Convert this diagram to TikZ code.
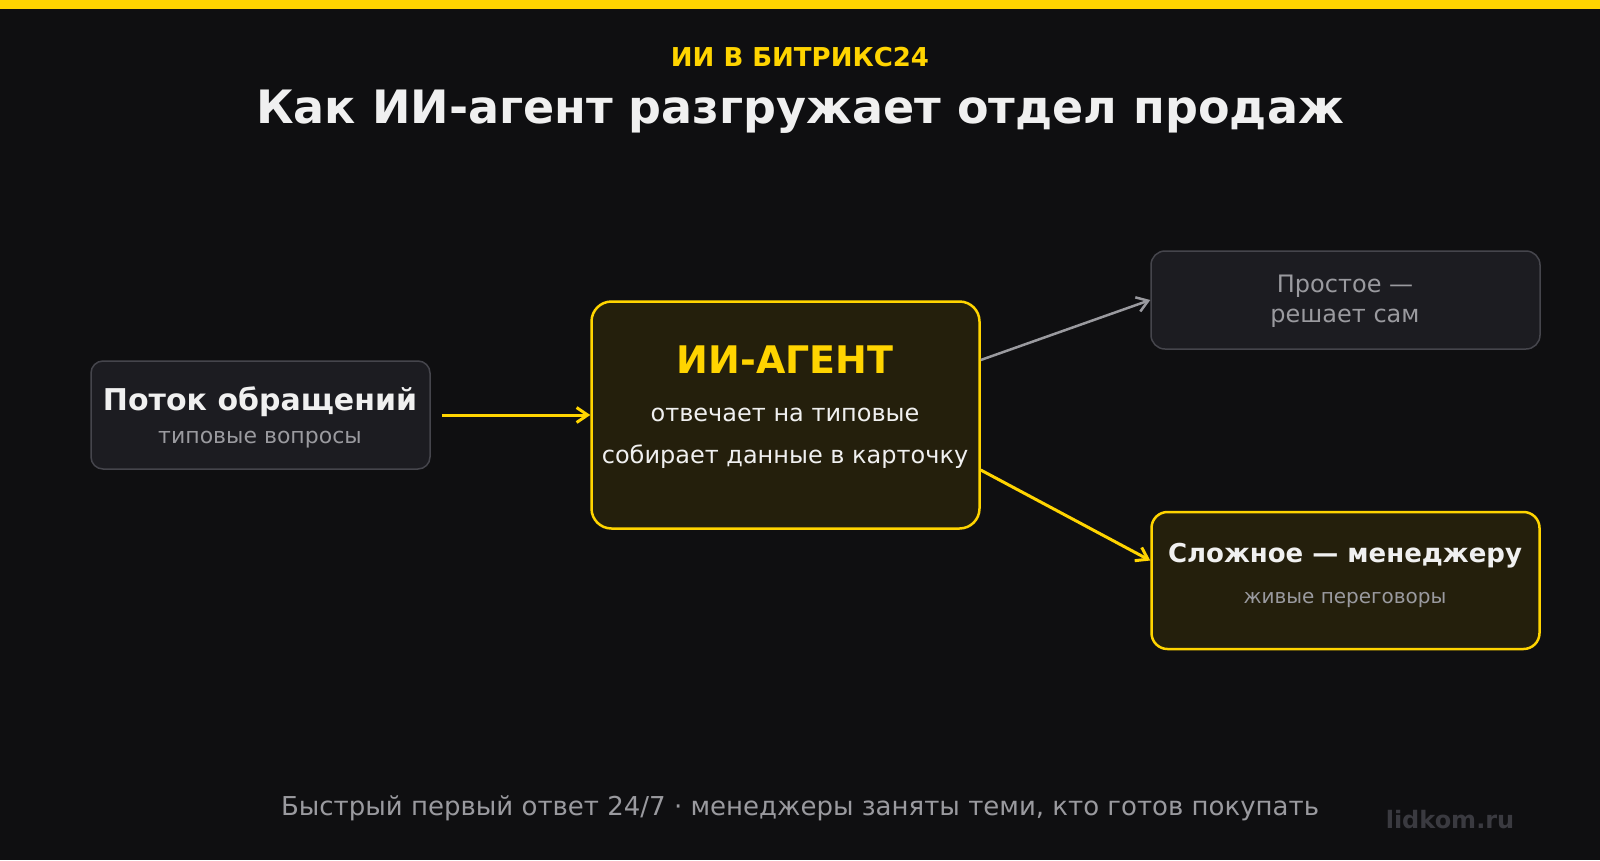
\documentclass[tikz,border=0pt]{standalone}
\usepackage{fontspec}
\setmainfont{DejaVu Sans}
\usetikzlibrary{arrows.meta}
\definecolor{bg}{HTML}{0F0F11}
\definecolor{acc}{HTML}{FFD400}
\definecolor{card}{HTML}{1C1C21}
\definecolor{cardline}{HTML}{45454C}
\definecolor{olive}{HTML}{241F0C}
\definecolor{txt}{HTML}{F0F0F0}
\definecolor{muted}{HTML}{9A9A9F}
\definecolor{brand}{HTML}{3A3A40}
\newcommand\fsz[1]{\fontsize{#1pt}{#1pt}\selectfont}
\begin{document}
\begin{tikzpicture}[x=1pt,y=-1pt,
  cardbox/.style={draw=cardline, fill=card, line width=1.5pt, inner sep=0pt},
  hotbox/.style={draw=acc, fill=olive, line width=2.5pt, inner sep=0pt},
  lbl/.style={anchor=base, inner sep=0pt},
  yarrow/.style={draw=acc, line width=3pt, -{Straight Barb[length=11pt,width=15pt]}},
  garrow/.style={draw=muted, line width=2.5pt, -{Straight Barb[length=11pt,width=15pt]}}]
\fill[bg] (0,0) rectangle (1600,860);
\useasboundingbox (0,0) rectangle (1600,860);
\fill[acc] (0,0) rectangle (1600,9);

\node[lbl, text=acc] (kicker) at (800,66.7) {\fsz{26}\bfseries ИИ В БИТРИКС24};
\node[lbl, text=txt] (title) at (800,123.3) {\fsz{46}\bfseries Как ИИ-агент разгружает отдел продаж};

\node[cardbox, rounded corners=12pt, minimum width=339pt, minimum height=108pt] (src) at (260.5,415) {};
\node[lbl, text=txt] (srcT) at (260,410) {\fsz{30}\bfseries Поток обращений};
\node[lbl, text=muted] (srcS) at (260,443) {\fsz{22}типовые вопросы};

\node[hotbox, rounded corners=20pt, minimum width=388pt, minimum height=227pt] (agent) at (785.5,415) {};
\node[lbl, text=acc] (agentT) at (785,373) {\fsz{38}\bfseries ИИ-АГЕНТ};
\node[lbl, text=txt] (agentA) at (785,421) {\fsz{24}отвечает на типовые};
\node[lbl, text=txt] (agentB) at (785,463) {\fsz{24}собирает данные в карточку};

\node[cardbox, rounded corners=14pt, minimum width=389pt, minimum height=98pt] (simple) at (1345.5,300) {};
\node[lbl, text=muted] (simpleA) at (1345,292) {\fsz{24}Простое —};
\node[lbl, text=muted] (simpleB) at (1345,322) {\fsz{24}решает сам};

\node[hotbox, rounded corners=16pt, minimum width=388pt, minimum height=137pt] (complex) at (1345.5,580.5) {};
\node[lbl, text=txt] (complexT) at (1345,562) {\fsz{26}\bfseries Сложное — менеджеру};
\node[lbl, text=muted] (complexS) at (1345,603) {\fsz{20}живые переговоры};

\draw[yarrow] ([xshift=11pt]src.east) -- (agent.west);
\draw[garrow] ([yshift=55pt]agent.east) -- (simple.west);
\draw[yarrow] ([yshift=-55pt]agent.east) -- ([yshift=20pt]complex.west);

\node[lbl, text=muted] (footer) at (800,815) {\fsz{26}Быстрый первый ответ 24/7 · менеджеры заняты теми, кто готов покупать};
\node[lbl, text=brand] (brandT) at (1450,828) {\fsz{24}\bfseries lidkom.ru};
\end{tikzpicture}
\end{document}
